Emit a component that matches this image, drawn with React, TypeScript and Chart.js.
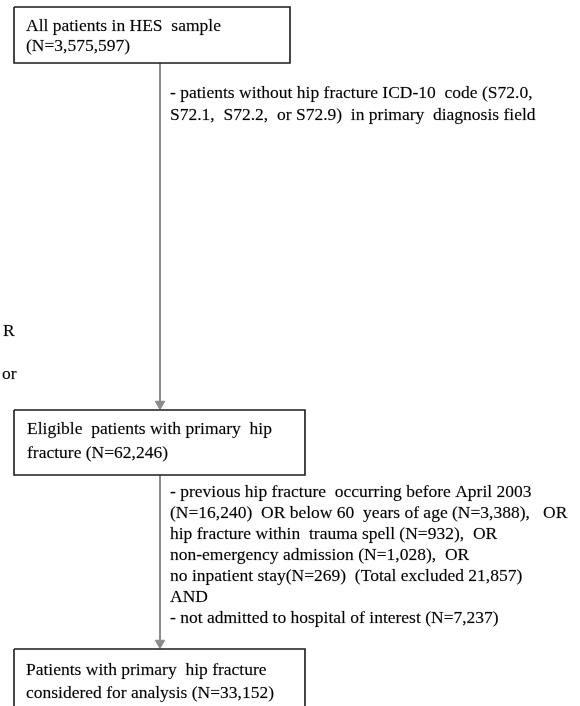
import React, { useEffect, useRef } from "react";
import { Chart, registerables } from "chart.js";

Chart.register(...registerables);

// ---- data (texts of the flow diagram) ----
const boxTexts: string[][] = [
  ["All patients in HES  sample", "(N=3,575,597)"],
  ["Eligible  patients with primary  hip", "fracture (N=62,246)"],
  ["Patients with primary  hip fracture", "considered for analysis (N=33,152)"],
];
const exclusion1: string[] = [
  "- patients without hip fracture ICD-10  code (S72.0,",
  "S72.1,  S72.2,  or S72.9)  in primary  diagnosis field",
];
const exclusion2: string[] = [
  "- previous hip fracture  occurring before April 2003",
  "(N=16,240)  OR below 60  years of age (N=3,388),   OR",
  "hip fracture within  trauma spell (N=932),  OR",
  "non-emergency admission (N=1,028),  OR",
  "no inpatient stay(N=269)  (Total excluded 21,857)",
  "AND",
  "- not admitted to hospital of interest (N=7,237)",
];
const leftFragments: string[] = ["R", "or"];

// ---- layout (positions in the diagram's coordinate space) ----
const W = 580;
const H = 706;
const boxRects = [
  { x0: 14, y0: 7, x1: 290, y1: 63, tx: 26, ty: 31, lh: 20 },
  { x0: 14, y0: 410, x1: 305, y1: 475, tx: 27, ty: 434, lh: 24 },
  { x0: 14, y0: 649, x1: 305, y1: 720, tx: 26, ty: 675, lh: 23 },
];
const arrowX = 160;
const excl1Pos = { x: 170, y: 98, lh: 22 };
const excl2Pos = { x: 170, y: 497, lh: 21 };
const fragPos = [
  { x: 3, y: 336 },
  { x: 2, y: 379 },
];

const FONT = '17.5px "Liberation Serif", "Times New Roman", serif';

export default function App() {
  const ref = useRef<HTMLCanvasElement | null>(null);

  useEffect(() => {
    if (!ref.current) return;

    const rectData = (b: { x0: number; y0: number; x1: number; y1: number }) => [
      { x: b.x0, y: b.y0 },
      { x: b.x1, y: b.y0 },
      { x: b.x1, y: b.y1 },
      { x: b.x0, y: b.y1 },
      { x: b.x0, y: b.y0 },
    ];

    const boxDatasets = boxRects.map((b) => ({
      type: "line" as const,
      data: rectData(b),
      borderColor: "#1a1a1a",
      borderWidth: 1.6,
      borderJoinStyle: "miter" as const,
      pointRadius: 0,
      tension: 0,
      fill: false,
      clip: false as any,
    }));

    const arrowDatasets = [
      [boxRects[0].y1, boxRects[1].y0 - 6],
      [boxRects[1].y1, boxRects[2].y0 - 6],
    ].map(([a, b]) => ({
      type: "line" as const,
      data: [
        { x: arrowX, y: a },
        { x: arrowX, y: b },
      ],
      borderColor: "#8c8c8c",
      borderWidth: 2,
      pointRadius: [0, 5.5],
      pointStyle: "triangle" as const,
      rotation: 180,
      pointBackgroundColor: "#8c8c8c",
      pointBorderColor: "#8c8c8c",
      pointBorderWidth: 1,
      fill: false,
      clip: false as any,
    }));

    const textPlugin = {
      id: "flowText",
      afterDatasetsDraw(chart: any) {
        const { ctx, scales } = chart;
        const px = (v: number) => scales.x.getPixelForValue(v);
        const py = (v: number) => scales.y.getPixelForValue(v);
        ctx.save();
        ctx.fillStyle = "#000";
        ctx.strokeStyle = "rgba(0,0,0,0.35)";
        ctx.lineWidth = 0.4;
        ctx.font = FONT;
        ctx.textBaseline = "alphabetic";
        ctx.textAlign = "left";
        const put = (t: string, x: number, y: number) => {
          ctx.fillText(t, px(x), py(y));
          ctx.strokeText(t, px(x), py(y));
        };
        boxTexts.forEach((lines, i) => {
          const b = boxRects[i];
          lines.forEach((t, j) => put(t, b.tx, b.ty + j * b.lh));
        });
        exclusion1.forEach((t, j) => put(t, excl1Pos.x, excl1Pos.y + j * excl1Pos.lh));
        exclusion2.forEach((t, j) => put(t, excl2Pos.x, excl2Pos.y + j * excl2Pos.lh));
        leftFragments.forEach((t, j) => put(t, fragPos[j].x, fragPos[j].y));
        ctx.restore();
      },
    };

    const chart = new Chart(ref.current, {
      type: "scatter",
      data: { datasets: [...boxDatasets, ...arrowDatasets] as any },
      options: {
        animation: false,
        responsive: false,
        devicePixelRatio: 1,
        layout: { padding: 0, autoPadding: false },
        plugins: { legend: { display: false }, tooltip: { enabled: false } },
        scales: {
          x: { type: "linear", min: 0, max: W, display: false },
          y: { type: "linear", min: 0, max: H, reverse: true, display: false },
        },
      },
      plugins: [textPlugin],
    });
    return () => chart.destroy();
  }, []);

  return (
    <div style={{ position: "fixed", left: 0, top: 0, width: W, height: H, background: "#fff" }}>
      <canvas ref={ref} width={W} height={H} style={{ display: "block" }} />
    </div>
  );
}
